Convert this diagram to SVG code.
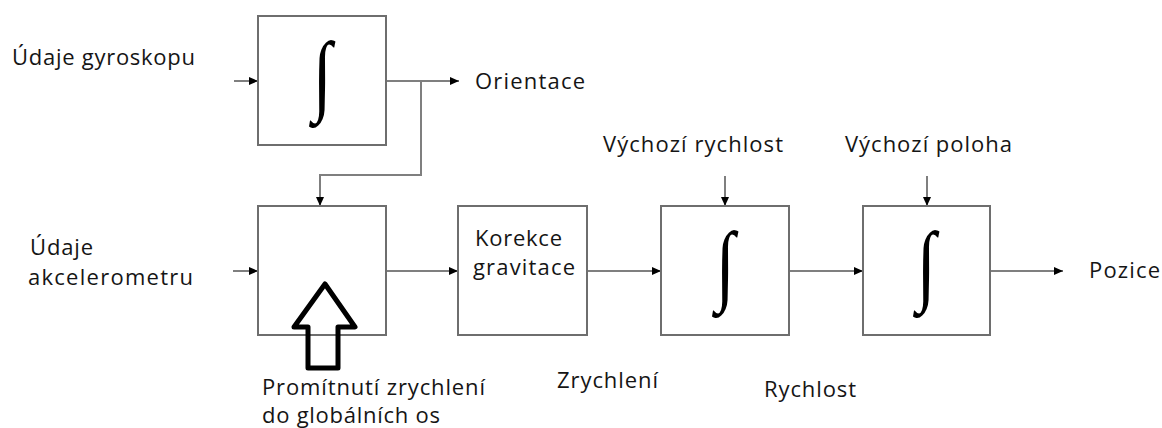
<svg xmlns="http://www.w3.org/2000/svg" width="1162" height="428" viewBox="0 0 1162 428">
<style>
.box{fill:#fff;stroke:#6e6e6e;stroke-width:2}
.ln{fill:none;stroke:#7f7f7f;stroke-width:2}
.t{font-family:"Open Sans","Liberation Sans",sans-serif;font-size:22px;fill:#151515}
.int{font-family:"Liberation Serif",serif;font-size:70px;fill:#000;text-anchor:middle}
</style>
<defs>
<marker id="ah" viewBox="0 0 9 8" refX="9" refY="4" markerWidth="9" markerHeight="8" markerUnits="userSpaceOnUse" orient="auto">
<path d="M0,0 L9,4 L0,8 z" fill="#000"/>
</marker>
</defs>
<g id="connectors">
<path class="ln" d="M234,81 H258" marker-end="url(#ah)"/>
<path class="ln" d="M386,81 H459" marker-end="url(#ah)"/>
<path class="ln" d="M421,81 V175 H320 V206" marker-end="url(#ah)"/>
<path class="ln" d="M233,271 H258" marker-end="url(#ah)"/>
<path class="ln" d="M386,271 H458" marker-end="url(#ah)"/>
<path class="ln" d="M587,271 H661" marker-end="url(#ah)"/>
<path class="ln" d="M789,271 H863" marker-end="url(#ah)"/>
<path class="ln" d="M990,271 H1063" marker-end="url(#ah)"/>
<path class="ln" d="M725,176 V206" marker-end="url(#ah)"/>
<path class="ln" d="M927,176 V206" marker-end="url(#ah)"/>
</g>
<g id="integrator-gyro">
<rect class="box" x="258" y="16" width="128" height="129"/>
<text class="int" transform="translate(322,104) scale(1,1.28)">∫</text>
</g>
<g id="projection">
<rect class="box" x="258" y="206" width="128" height="129"/>
</g>
<g id="gravity">
<rect class="box" x="458" y="206" width="129" height="129"/>
<text class="t" x="475" y="246" textLength="87">Korekce</text>
<text class="t" x="473" y="275" textLength="102">gravitace</text>
</g>
<g id="integrator-vel">
<rect class="box" x="661" y="206" width="128" height="129"/>
<text class="int" transform="translate(725,294) scale(1,1.28)">∫</text>
</g>
<g id="integrator-pos">
<rect class="box" x="863" y="206" width="127" height="129"/>
<text class="int" transform="translate(926,294) scale(1,1.28)">∫</text>
</g>
<g id="hollow-arrow">
<path d="M325,284 L355,327 L338,327 L338,368 L308,368 L308,327 L294,327 Z" fill="none" stroke="#000" stroke-width="5" stroke-linejoin="round"/>
</g>
<g id="labels">
<text class="t" x="12" y="65" textLength="183">Údaje gyroskopu</text>
<text class="t" x="475" y="89" textLength="110">Orientace</text>
<text class="t" x="30" y="255" textLength="63">Údaje</text>
<text class="t" x="28" y="285" textLength="165">akcelerometru</text>
<text class="t" x="603" y="152" textLength="180">Výchozí rychlost</text>
<text class="t" x="845" y="152" textLength="167">Výchozí poloha</text>
<text class="t" x="1089" y="278" textLength="71">Pozice</text>
<text class="t" x="262" y="395" textLength="223">Promítnutí zrychlení</text>
<text class="t" x="262" y="423" textLength="178">do globálních os</text>
<text class="t" x="557" y="388" textLength="101">Zrychlení</text>
<text class="t" x="764" y="397" textLength="92">Rychlost</text>
</g>
</svg>
